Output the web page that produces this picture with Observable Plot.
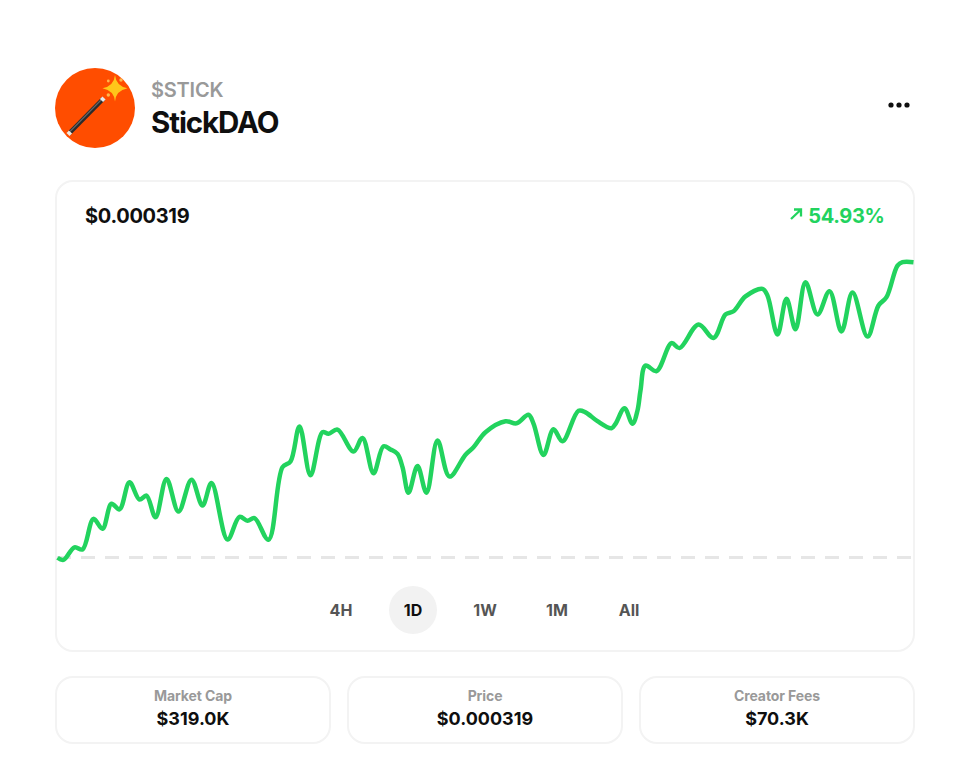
<!DOCTYPE html>
<html><head><meta charset="utf-8">
<script src="https://cdn.jsdelivr.net/npm/d3@7"></script>
<script src="https://cdn.jsdelivr.net/npm/@observablehq/plot@0.6"></script>
<style>
html,body{margin:0;padding:0;background:#fff;font-family:Inter,sans-serif;color:#0f0f0f}
#page{position:relative;width:973px;height:764px;overflow:hidden}
.a{position:absolute;white-space:nowrap;line-height:1}
.card{position:absolute;box-sizing:border-box;border:2px solid #f3f3f3;background:#fff}
.c{transform:translate(-50%,-50%)}
#chart{position:absolute;left:57px;top:240px}
#chart svg{overflow:visible;background:transparent}
</style></head><body><div id="page">
<svg class="a" style="left:55px;top:68px" width="80" height="80" viewBox="0 0 80 80">
 <circle cx="40" cy="40" r="40" fill="#ff4d00"/>
 <line x1="13.5" y1="66" x2="48.5" y2="30.5" stroke="#2b2b2b" stroke-width="4.4"/>
 <line x1="15" y1="63.5" x2="47" y2="31" stroke="#666" stroke-width="1.1"/>
 <line x1="13" y1="66.5" x2="15.5" y2="64" stroke="#f3e9df" stroke-width="4.4"/>
 <line x1="46.5" y1="32.5" x2="49" y2="30" stroke="#e8e8e8" stroke-width="4.4"/>
 <path d="M60 7 Q61 18 72.5 20.3 Q61 22.5 60 33.5 Q59 22.5 47.5 20.3 Q59 18 60 7 Z" fill="#ffc61a"/>
 <circle cx="66" cy="12" r="1.7" fill="#ffb74d"/><circle cx="53.3" cy="13" r="1.4" fill="#ffb74d"/><circle cx="53.3" cy="27" r="1.7" fill="#ffb74d"/>
</svg>
<div class="a" id="ticker" style="left:151px;top:80px;font-size:20px;font-weight:600;color:#999;letter-spacing:-.2px"></div>
<div class="a" id="name" style="left:151px;top:108px;font-size:29.5px;font-weight:700;letter-spacing:-1.1px"></div>
<svg class="a" style="left:887px;top:100px" width="24" height="10" viewBox="0 0 24 10"><circle cx="4" cy="5" r="2.6" fill="#0f0f0f"/><circle cx="12" cy="5" r="2.6" fill="#0f0f0f"/><circle cx="20" cy="5" r="2.6" fill="#0f0f0f"/></svg>

<div class="card" style="left:55px;top:180px;width:860px;height:472px;border-radius:18px"></div>
<div class="a" id="lastPrice" style="left:85px;top:206px;font-size:20px;font-weight:700;letter-spacing:-.3px"></div>
<svg class="a" style="left:789px;top:207px" width="14" height="14" viewBox="0 0 14 14"><path d="M2 12 L12 2.5 M5 2.5 H12 V9.5" fill="none" stroke="#22d35e" stroke-width="2.3"/></svg>
<div class="a" id="change" style="right:88.5px;top:206px;font-size:20px;font-weight:700;letter-spacing:-.35px;color:#22d35e"></div>
<div id="chart"></div>
<div class="a c" style="left:413px;top:610px;width:48px;height:48px;border-radius:50%;background:#f2f2f2"></div>
<div id="ranges"></div>
<div id="stats"></div>
</div>
<script>
const ticker = "$STICK", tokenName = "StickDAO";
const lastPrice = "$0.000319", changeLabel = "54.93%";
const rangeLabels = ["4H","1D","1W","1M","All"];
const statLabels = ["Market Cap","Price","Creator Fees"];
const statValues = ["$319.0K","$0.000319","$70.3K"];
const openPrice = 206; // micro-dollars
// sample position across the 1D window, and price in micro-dollars
const samplePos = [0,6,17,25,36,45,54,62,72,82,89,98,109,121,134,145,154,170,182,190,197,211,225,233,242,253,265,271,280,296,305,316,326,333,340,345,351,360,369,380,392,408,416,428,448,459,471,476,486,496,505,521,528,540,554,558,567,575,580,583,588,599,614,622,641,656,668,676,688,705,710,720,729,738,748,760,772,784,795,810,821,829,840,845,856];
const priceMicro = [205.9,205.1,209.9,209.1,220.8,217,226.6,224.4,234.8,228.2,229.7,221.4,236.1,223.6,235.8,225.9,234.5,212.9,221.6,220.1,221.1,212.8,240.6,242.8,256.2,237.5,254,253.4,255,246.6,251.8,238.3,248.6,247.4,245.7,240.6,230.8,241,230.8,250.8,237,245.4,248.2,254,258.2,257.4,260.7,257.3,245.3,255.1,250.5,262.2,261.6,258.2,255.5,257.2,263.2,257.2,262.3,270,279.5,277.4,288.1,286.2,295.2,290.1,299.1,300.3,306,308.9,306.3,291.4,305.1,293.4,311.4,299.1,308,292.6,307.5,290.6,302.5,305.7,317.8,319.1,319.1];

document.getElementById("ticker").textContent = ticker;
document.getElementById("name").textContent = tokenName;
document.getElementById("lastPrice").textContent = lastPrice;
document.getElementById("change").textContent = changeLabel;

const series = samplePos.map((t,i)=>({t,p:priceMicro[i]}));
const plot = Plot.plot({
  width:856, height:340, marginTop:0, marginRight:0, marginBottom:0, marginLeft:0,
  x:{axis:null, domain:[0,856], range:[0,856]},
  y:{axis:null, domain:[206,319.1], range:[317,21.7]},
  marks:[
    Plot.ruleY([openPrice],{stroke:"#e6e6e6",strokeWidth:3,strokeDasharray:"14 10"}),
    Plot.line(series,{x:"t",y:"p",stroke:"#22d35e",strokeWidth:4.5,curve:"catmull-rom",strokeLinecap:"butt",strokeLinejoin:"round"})
  ]
});
document.getElementById("chart").appendChild(plot);

const rangeX=[341,413,485,557,629];
const R=document.getElementById("ranges");
rangeLabels.forEach((l,i)=>{const d=document.createElement("div");d.className="a c";d.textContent=l;
 d.style.cssText=`left:${rangeX[i]}px;top:610px;font-size:16px;font-weight:700;color:${i==1?"#0f0f0f":"#555"}`;R.appendChild(d);});
const S=document.getElementById("stats");
const cardX=[55,347,639];
statLabels.forEach((l,i)=>{
 const c=document.createElement("div");c.className="card";c.style.cssText=`left:${cardX[i]}px;top:676px;width:276px;height:68px;border-radius:18px`;S.appendChild(c);
 const cx=cardX[i]+138;
 const a=document.createElement("div");a.className="a c";a.textContent=l;a.style.cssText=`left:${cx}px;top:696px;font-size:14px;font-weight:700;letter-spacing:-.1px;color:#999`;S.appendChild(a);
 const b=document.createElement("div");b.className="a c";b.textContent=statValues[i];b.style.cssText=`left:${cx}px;top:719px;font-size:18px;font-weight:700;color:#0f0f0f`;S.appendChild(b);
});
</script></body></html>
